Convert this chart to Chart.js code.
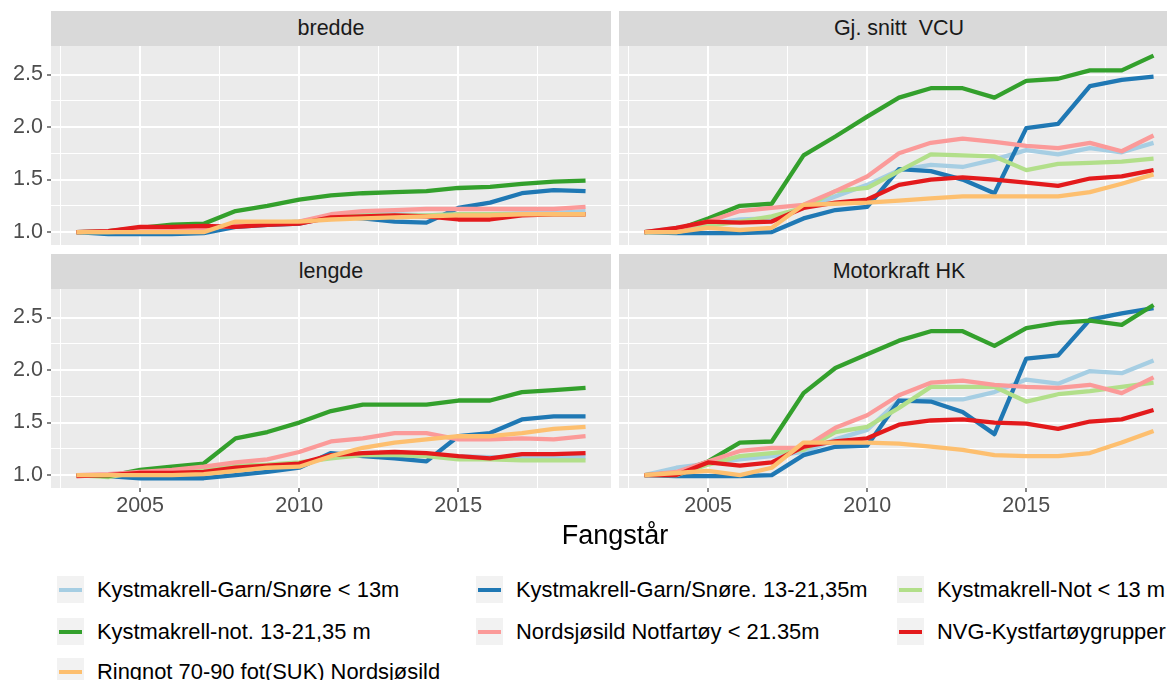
<!DOCTYPE html>
<html>
<head>
<meta charset="utf-8">
<script src="https://cdn.jsdelivr.net/npm/chart.js@4.4.0/dist/chart.umd.min.js"></script>
<style>
  html, body { margin: 0; padding: 0; background: #ffffff; overflow: hidden; }
  body { width: 1167px; height: 680px; position: relative; font-family: 'Liberation Sans', Arial, sans-serif; }
  canvas { position: absolute; }
  .strip { position: absolute; height: 35px; background: #D9D9D9; color: #1A1A1A; font-size: 21.5px; line-height: 35px; text-align: center; white-space: pre; }
  .xtitle { position: absolute; left: 51px; width: 1128px; top: 518px; line-height: 34px; text-align: center; font-size: 27px; color: #000000; }
  .item { position: absolute; height: 27px; display: flex; align-items: center; white-space: nowrap; font-size: 21.9px; color: #000000; }
  .key { width: 27px; height: 27px; background: #F2F2F2; position: relative; margin-right: 13px; flex: none; }
  .key span { position: absolute; left: 2px; right: 2px; top: 11.5px; height: 4.3px; }
</style>
</head>
<body>
<div class="strip" style="left:51px;top:11px;width:560px">bredde</div>
<div class="strip" style="left:619px;top:11px;width:560px">Gj. snitt  VCU</div>
<div class="strip" style="left:51px;top:254px;width:560px">lengde</div>
<div class="strip" style="left:619px;top:254px;width:560px">Motorkraft HK</div>

<canvas id="tl" width="611" height="199" style="left:0;top:46px"></canvas>
<canvas id="tr" width="560" height="199" style="left:619px;top:46px"></canvas>
<canvas id="bl" width="611" height="236" style="left:0;top:289px"></canvas>
<canvas id="br" width="560" height="236" style="left:619px;top:289px"></canvas>

<div class="xtitle">Fangstår</div>
<div id="legend"></div>

<script>
// årstall
const years = [2003, 2004, 2005, 2006, 2007, 2008, 2009, 2010, 2011, 2012, 2013, 2014, 2015, 2016, 2017, 2018, 2019];

// fartøygrupper
const groups = [
    'Kystmakrell-Garn/Snøre < 13m',
    'Kystmakrell-Garn/Snøre. 13-21,35m',
    'Kystmakrell-Not < 13 m',
    'Kystmakrell-not. 13-21,35 m',
    'Nordsjøsild Notfartøy < 21.35m',
    'NVG-Kystfartøygrupper',
    'Ringnot 70-90 fot(SUK) Nordsjøsild'
];
const palette = ['#A6CEE3', '#1F78B4', '#B2DF8A', '#33A02C', '#FB9A99', '#E31A1C', '#FDBF6F'];

// akser
const xGridTicks = [2002.5, 2005, 2007.5, 2010, 2012.5, 2015, 2017.5];
const xLabelTicks = [2005, 2010, 2015];
const yGridTicks = [1.0, 1.25, 1.5, 1.75, 2.0, 2.25, 2.5];
const yLabelTicks = [1.0, 1.5, 2.0, 2.5];

// indeks per panel, en rad per gruppe (samme rekkefølge som groups)
const bredde = [
    [1.00, 1.00, 1.01, 1.02, 1.03, 1.07, 1.08, 1.10, 1.15, 1.17, 1.17, 1.16, 1.17, 1.17, 1.18, 1.18, 1.20],
    [1.00, 0.98, 0.98, 0.98, 0.99, 1.05, 1.07, 1.08, 1.15, 1.13, 1.10, 1.09, 1.23, 1.28, 1.37, 1.40, 1.39],
    [1.00, 1.00, 1.01, 1.02, 1.03, 1.07, 1.09, 1.10, 1.14, 1.16, 1.16, 1.16, 1.17, 1.17, 1.17, 1.17, 1.17],
    [1.00, 1.01, 1.04, 1.07, 1.08, 1.20, 1.25, 1.31, 1.35, 1.37, 1.38, 1.39, 1.42, 1.43, 1.46, 1.48, 1.49],
    [1.00, 1.01, 1.02, 1.03, 1.04, 1.06, 1.08, 1.10, 1.17, 1.20, 1.21, 1.22, 1.22, 1.22, 1.22, 1.22, 1.24],
    [1.00, 1.01, 1.05, 1.05, 1.06, 1.05, 1.07, 1.08, 1.14, 1.15, 1.16, 1.15, 1.12, 1.12, 1.16, 1.17, 1.17],
    [1.00, 1.00, 1.00, 1.00, 1.00, 1.10, 1.10, 1.10, 1.12, 1.13, 1.14, 1.15, 1.16, 1.16, 1.17, 1.17, 1.17]
];
const vcu = [
    [1.00, 1.04, 1.08, 1.12, 1.13, 1.23, 1.34, 1.45, 1.59, 1.64, 1.62, 1.69, 1.78, 1.74, 1.80, 1.76, 1.85],
    [1.00, 0.99, 0.99, 0.99, 1.00, 1.13, 1.21, 1.24, 1.60, 1.58, 1.50, 1.37, 1.99, 2.03, 2.39, 2.45, 2.48],
    [1.00, 1.00, 1.06, 1.10, 1.15, 1.23, 1.39, 1.42, 1.58, 1.74, 1.73, 1.72, 1.59, 1.65, 1.66, 1.67, 1.70],
    [1.00, 1.02, 1.13, 1.25, 1.27, 1.73, 1.91, 2.10, 2.28, 2.37, 2.37, 2.28, 2.44, 2.46, 2.54, 2.54, 2.68],
    [1.00, 1.03, 1.10, 1.20, 1.23, 1.26, 1.39, 1.53, 1.75, 1.85, 1.89, 1.86, 1.82, 1.80, 1.85, 1.77, 1.92],
    [1.00, 1.04, 1.10, 1.09, 1.10, 1.23, 1.28, 1.31, 1.45, 1.50, 1.52, 1.50, 1.47, 1.44, 1.51, 1.53, 1.59],
    [1.00, 1.00, 1.04, 1.02, 1.04, 1.26, 1.27, 1.28, 1.30, 1.32, 1.34, 1.34, 1.34, 1.34, 1.38, 1.46, 1.55]
];
const lengde = [
    [1.00, 1.00, 1.01, 1.02, 1.03, 1.05, 1.07, 1.10, 1.18, 1.20, 1.19, 1.18, 1.18, 1.17, 1.17, 1.17, 1.17],
    [1.00, 0.99, 0.97, 0.97, 0.97, 1.00, 1.03, 1.07, 1.21, 1.18, 1.16, 1.13, 1.37, 1.40, 1.53, 1.56, 1.56],
    [1.00, 0.98, 1.03, 1.05, 1.07, 1.09, 1.10, 1.12, 1.16, 1.19, 1.19, 1.18, 1.15, 1.15, 1.14, 1.14, 1.14],
    [1.00, 0.99, 1.05, 1.08, 1.11, 1.35, 1.41, 1.50, 1.61, 1.67, 1.67, 1.67, 1.71, 1.71, 1.79, 1.81, 1.83],
    [1.00, 1.01, 1.03, 1.05, 1.08, 1.12, 1.15, 1.22, 1.32, 1.35, 1.40, 1.40, 1.34, 1.34, 1.35, 1.34, 1.37],
    [0.99, 1.00, 1.02, 1.02, 1.03, 1.07, 1.09, 1.11, 1.19, 1.21, 1.22, 1.21, 1.18, 1.16, 1.20, 1.20, 1.21],
    [1.00, 1.00, 1.00, 1.00, 1.01, 1.04, 1.07, 1.08, 1.18, 1.26, 1.31, 1.34, 1.37, 1.37, 1.40, 1.44, 1.46]
];
const motorkraft = [
    [1.00, 1.07, 1.11, 1.15, 1.18, 1.22, 1.34, 1.43, 1.71, 1.72, 1.72, 1.79, 1.91, 1.87, 1.99, 1.97, 2.09],
    [1.00, 0.99, 0.99, 0.99, 1.00, 1.19, 1.27, 1.28, 1.71, 1.70, 1.60, 1.39, 2.11, 2.14, 2.48, 2.54, 2.59],
    [1.00, 1.00, 1.10, 1.18, 1.21, 1.24, 1.41, 1.46, 1.64, 1.84, 1.84, 1.84, 1.70, 1.77, 1.80, 1.84, 1.88],
    [1.00, 1.02, 1.13, 1.31, 1.32, 1.78, 2.02, 2.15, 2.28, 2.37, 2.37, 2.23, 2.40, 2.45, 2.47, 2.43, 2.62],
    [1.00, 1.03, 1.13, 1.23, 1.26, 1.26, 1.45, 1.57, 1.76, 1.88, 1.90, 1.86, 1.84, 1.83, 1.86, 1.78, 1.93],
    [1.00, 1.00, 1.12, 1.09, 1.12, 1.27, 1.32, 1.35, 1.48, 1.52, 1.53, 1.50, 1.49, 1.44, 1.51, 1.53, 1.62],
    [1.00, 1.02, 1.04, 1.00, 1.07, 1.31, 1.31, 1.31, 1.30, 1.27, 1.24, 1.19, 1.18, 1.18, 1.21, 1.31, 1.42]
];

Chart.defaults.font.family = "'Liberation Sans', Arial, sans-serif";
Chart.defaults.font.size = 21.5;

// felles panel (ggplot-aktig facett)
const makePanel = (id, values, showX, showY) => {
    const ctx = document.getElementById(id).getContext('2d');
    return new Chart(ctx, {
        type: 'line',
        data: {
            datasets: values.map((vals, i) => ({
                label: groups[i],
                data: years.map((yr, j) => ({ x: yr, y: vals[j] })),
                borderColor: palette[i],
                borderWidth: 4.3,
                borderJoinStyle: 'round',
                pointRadius: 0,
                tension: 0,
                fill: false,
                order: groups.length - i
            }))
        },
        options: {
            responsive: false,
            animation: false,
            events: [],
            layout: { padding: 0 },
            plugins: { legend: { display: false }, tooltip: { enabled: false } },
            scales: {
                x: {
                    type: 'linear',
                    min: 2002.2,
                    max: 2019.8,
                    afterBuildTicks: s => { s.ticks = xGridTicks.map(v => ({ value: v })); },
                    afterFit: s => { s.height = showX ? 37 : 0; s.paddingLeft = 0; s.paddingRight = 0; },
                    ticks: {
                        display: showX,
                        autoSkip: false,
                        maxRotation: 0,
                        padding: 1,
                        color: '#4D4D4D',
                        callback: v => xLabelTicks.includes(v) ? String(v) : ''
                    },
                    grid: {
                        color: '#FFFFFF',
                        lineWidth: c => xLabelTicks.includes(c.tick.value) ? 2 : 1,
                        drawTicks: showX,
                        tickLength: 4,
                        tickWidth: 1.2,
                        tickColor: c => xLabelTicks.includes(c.tick.value) ? '#333333' : 'rgba(0,0,0,0)'
                    },
                    border: { display: false }
                },
                y: {
                    type: 'linear',
                    min: 0.877,
                    max: 2.772,
                    afterBuildTicks: s => { s.ticks = yGridTicks.map(v => ({ value: v })); },
                    afterFit: s => { s.width = showY ? 51 : 0; s.paddingTop = 0; s.paddingBottom = 0; },
                    ticks: {
                        display: showY,
                        autoSkip: false,
                        padding: 4,
                        color: '#4D4D4D',
                        callback: v => yLabelTicks.includes(v) ? v.toFixed(1) : ''
                    },
                    grid: {
                        color: '#FFFFFF',
                        lineWidth: c => yLabelTicks.includes(c.tick.value) ? 2 : 1,
                        drawTicks: showY,
                        tickLength: 4,
                        tickWidth: 1.2,
                        tickColor: c => yLabelTicks.includes(c.tick.value) ? '#333333' : 'rgba(0,0,0,0)'
                    },
                    border: { display: false }
                }
            }
        },
        plugins: [{
            id: 'panelBg',
            beforeDraw: chart => {
                const { ctx, chartArea: a } = chart;
                ctx.save();
                ctx.fillStyle = '#EBEBEB';
                ctx.fillRect(a.left, a.top, a.right - a.left, a.bottom - a.top);
                ctx.restore();
            }
        }]
    });
};

makePanel('tl', bredde, false, true);
makePanel('tr', vcu, false, false);
makePanel('bl', lengde, true, true);
makePanel('br', motorkraft, true, false);

// forklaring, 3 kolonner, radvis
const legendEl = document.getElementById('legend');
const colX = [57, 476, 897];
const rowY = [576, 618, 658];
groups.forEach((name, i) => {
    const item = document.createElement('div');
    item.className = 'item';
    item.style.left = colX[i % 3] + 'px';
    item.style.top = rowY[Math.floor(i / 3)] + 'px';
    item.innerHTML = '<div class="key"><span style="background:' + palette[i] + '"></span></div>' + name;
    legendEl.appendChild(item);
});
</script>
</body>
</html>
